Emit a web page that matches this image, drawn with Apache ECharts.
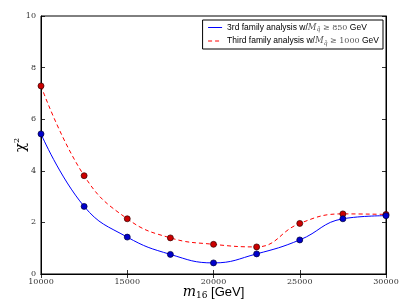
<!DOCTYPE html>
<html><head><meta charset="utf-8">
<script src="https://cdn.jsdelivr.net/npm/echarts@6/dist/echarts.min.js"></script>
<style>html,body{margin:0;padding:0;background:#fff}#c{width:407px;height:305px}</style>
</head><body><div id="c"></div>
<script>
const m16 = [10000, 12500, 15000, 17500, 20000, 22500, 25000, 27500, 30000];
const chi850 = [5.43, 2.62, 1.43, 0.76, 0.43, 0.78, 1.32, 2.14, 2.26];
const chi1000 = [7.29, 3.81, 2.14, 1.40, 1.15, 1.05, 1.96, 2.33, 2.31];
const xTicks = [10000, 15000, 20000, 25000, 30000];
const yTicks = [0, 2, 4, 6, 8, 10];
const seriesNames = ['s850', 's1000'];

const serif = 'DejaVu Serif';
const chart = echarts.init(document.getElementById('c'), null, {renderer: 'canvas'});
const pair = (xs, ys) => xs.map((x, i) => [x, ys[i]]);
const tickCommon = {show: true, inside: true, length: 4, lineStyle: {color: '#000', width: 0.8}};
const legendRich = {
  t: {fontFamily: 'Liberation Sans', fontSize: 8.5, color: '#000'},
  m: {fontFamily: serif, fontStyle: 'italic', fontSize: 8.5, color: '#555'},
  sub: {fontFamily: serif, fontStyle: 'italic', fontSize: 6, color: '#555', verticalAlign: 'bottom', padding: [4, 0, 0, 0]},
  n: {fontFamily: serif, fontSize: 8, color: '#555'}
};
chart.setOption({
  animation: false,
  backgroundColor: '#fff',
  grid: {left: 41, right: 21, top: 16, bottom: 31, show: true, borderColor: '#000', borderWidth: 1,
    containLabel: false, outerBoundsMode: 'none'},
  legend: {
    right: 24, top: 20,
    orient: 'vertical',
    borderColor: '#000', borderWidth: 1, borderRadius: 0,
    padding: [3, 4, 3, 5],
    itemGap: 4, itemWidth: 14, itemHeight: 8,
    itemStyle: {opacity: 0},
    data: [
      {name: 's850', lineStyle: {color: '#0000ff', width: 1}},
      {name: 's1000', lineStyle: {color: '#ff0000', width: 1, type: [4, 3]}}
    ],
    formatter: function (name) {
      if (name === 's850') return '{t|3rd family analysis w/}{m|M}{sub|q̃}{n| ≥ 850}{t| GeV}';
      return '{t|Third family analysis w/}{m|M}{sub|q̃}{n| ≥ 1000}{t| GeV}';
    },
    textStyle: {rich: legendRich}
  },
  xAxis: [{
    type: 'value', min: 10000, max: 30000, interval: 5000,
    axisLine: {show: true, lineStyle: {color: '#000', width: 1}},
    axisTick: tickCommon,
    splitLine: {show: false},
    axisLabel: {fontFamily: serif, fontSize: 8, color: '#333', margin: 4, formatter: v => String(v)},
    name: '{mi|m}{sb|16}{t| [GeV]}',
    nameLocation: 'middle', nameGap: 11, nameMoveOverlap: false,
    nameTextStyle: {rich: {
      mi: {fontFamily: serif, fontStyle: 'italic', fontSize: 14, color: '#000'},
      sb: {fontFamily: serif, fontSize: 9, color: '#000', verticalAlign: 'bottom', padding: [6, 0, 0, 0]},
      t: {fontFamily: 'Liberation Sans', fontSize: 13, color: '#000'}
    }}
  }, {
    type: 'value', position: 'top', min: 10000, max: 30000, interval: 5000,
    axisLine: {show: true, lineStyle: {color: '#000'}},
    axisTick: tickCommon, axisLabel: {show: false}, splitLine: {show: false}
  }],
  yAxis: [{
    type: 'value', min: 0, max: 10, interval: 2,
    axisLine: {show: true, lineStyle: {color: '#000', width: 1}},
    axisTick: tickCommon,
    splitLine: {show: false},
    axisLabel: {fontFamily: serif, fontSize: 8, color: '#333', margin: 5, formatter: v => String(v)},
    name: '{c|χ}{s|2}',
    nameLocation: 'middle', nameGap: 12, nameRotate: 90, nameMoveOverlap: false,
    nameTextStyle: {rich: {
      c: {fontFamily: serif, fontSize: 15, color: '#000'},
      s: {fontFamily: serif, fontSize: 8, color: '#000', verticalAlign: 'top', padding: [0, 0, 8, 0]}
    }}
  }, {
    type: 'value', position: 'right', min: 0, max: 10, interval: 2,
    axisLine: {show: true, lineStyle: {color: '#000'}},
    axisTick: tickCommon, axisLabel: {show: false}, splitLine: {show: false}
  }],
  series: [{
    name: seriesNames[0], type: 'line', data: pair(m16, chi850), smooth: 0.45,
    lineStyle: {color: '#0000ff', width: 1},
    symbol: 'circle', symbolSize: 6,
    itemStyle: {color: '#0000cc', borderColor: '#000033', borderWidth: 0.7},
    clip: true, z: 3
  }, {
    name: seriesNames[1], type: 'line', data: pair(m16, chi1000), smooth: 0.45,
    lineStyle: {color: '#ff0000', width: 1, type: [4, 3]},
    symbol: 'circle', symbolSize: 6,
    itemStyle: {color: '#cc0000', borderColor: '#330000', borderWidth: 0.7},
    clip: true, z: 2
  }]
});
</script></body></html>
